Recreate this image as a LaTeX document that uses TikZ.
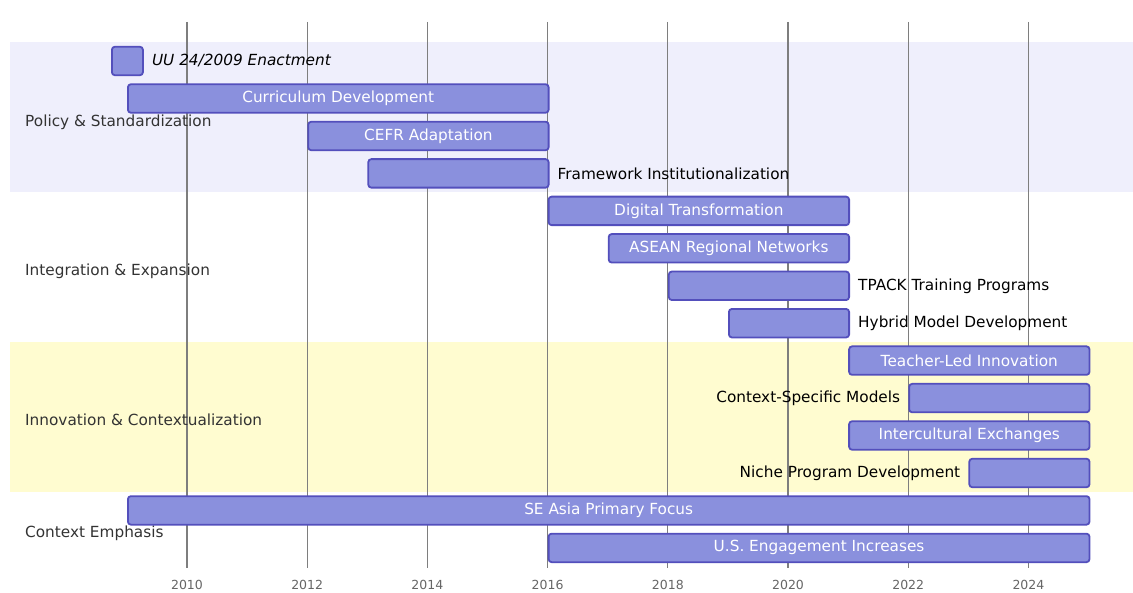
\documentclass[tikz,border=0pt]{standalone}
\usepackage{fontspec}
\setmainfont{DejaVu Sans}

\definecolor{taskfill}{HTML}{8A90DD}
\definecolor{taskline}{HTML}{534FBC}
\definecolor{bandone}{HTML}{EFEFFC}
\definecolor{bandtwo}{HTML}{FFFCD0}
\definecolor{gridgray}{HTML}{7E7E7E}

\tikzset{
	bar/.style = {draw = taskline, fill = taskfill, line width = 1.8pt, rounded corners = 3pt,
		minimum height = 28.5pt, inner sep = 0pt, anchor = west, text = white, font = \fontsize{15.3pt}{17pt}\selectfont},
	outtext/.style = {text = black, font = \fontsize{15.3pt}{17pt}\selectfont, inner sep = 0pt},
	sectext/.style = {text = black!80, anchor = west, font = \fontsize{15.3pt}{17pt}\selectfont, inner sep = 0pt},
	yeartext/.style = {text = black!60, font = \fontsize{12.5pt}{14pt}\selectfont, inner sep = 0pt}
}

\begin{document}
\begin{tikzpicture}[yscale = -1, x = 1pt, y = 1pt]
	\useasboundingbox (0, 0) rectangle (1133, 593);

	% Abschnitte
	\fill [bandone] (10, 42.3) rectangle (1133, 192.1);
	\fill [bandtwo] (10, 341.9) rectangle (1133, 491.7);

	% Gitter
	\foreach \y [count = \i from 0] in {2010, 2012, ..., 2024} {
		\draw [gridgray, line width = 1.3pt] (187 + 120.2*\i, 22) -- (187 + 120.2*\i, 568);
		\node [yeartext] (y\y) at (187 + 120.2*\i, 585) {\y};
	}

	% Policy & Standardization
	\node [sectext] (secpol) at (25, 122) {Policy \& Standardization};
	\node [bar, minimum width = 31pt] (uu) at (111, 61) {};
	\node [outtext, anchor = west, font = \fontsize{15.3pt}{17pt}\selectfont\itshape] (uutext) at ([xshift = 8pt] uu.east) {UU 24/2009 Enactment};
	\node [bar, minimum width = 420.7pt] (curr) at (127, 98.5) {Curriculum Development};
	\node [bar, minimum width = 240.4pt] (cefr) at (307.3, 136) {CEFR Adaptation};
	\node [bar, minimum width = 180.3pt] (frame) at (367.4, 173.4) {};
	\node [outtext, anchor = west] (frametext) at ([xshift = 8pt] frame.east) {Framework Institutionalization};

	% Integration & Expansion
	\node [sectext] (secint) at (25, 271) {Integration \& Expansion};
	\node [bar, minimum width = 300.5pt] (digi) at (547.7, 210.9) {Digital Transformation};
	\node [bar, minimum width = 240.4pt] (asean) at (607.8, 248.3) {ASEAN Regional Networks};
	\node [bar, minimum width = 180.3pt] (tpack) at (667.9, 285.8) {};
	\node [outtext, anchor = west] (tpacktext) at ([xshift = 8pt] tpack.east) {TPACK Training Programs};
	\node [bar, minimum width = 120.2pt] (hybrid) at (728, 323.2) {};
	\node [outtext, anchor = west] (hybridtext) at ([xshift = 8pt] hybrid.east) {Hybrid Model Development};

	% Innovation & Contextualization
	\node [sectext] (secinn) at (25, 420) {Innovation \& Contextualization};
	\node [bar, minimum width = 240.4pt] (teach) at (848.2, 360.6) {Teacher-Led Innovation};
	\node [bar, minimum width = 180.3pt] (ctx) at (908.3, 398.1) {};
	\node [outtext, anchor = east] (ctxtext) at ([xshift = -8pt] ctx.west) {Context-Specific Models};
	\node [bar, minimum width = 240.4pt] (inter) at (848.2, 435.5) {Intercultural Exchanges};
	\node [bar, minimum width = 120.2pt] (niche) at (968.4, 473) {};
	\node [outtext, anchor = east] (nichetext) at ([xshift = -8pt] niche.west) {Niche Program Development};

	% Context Emphasis
	\node [sectext] (secctx) at (25, 533) {Context Emphasis};
	\node [bar, minimum width = 961.6pt] (seasia) at (127, 510.4) {SE Asia Primary Focus};
	\node [bar, minimum width = 540.9pt] (us) at (547.7, 547.9) {U.S. Engagement Increases};
\end{tikzpicture}
\end{document}
